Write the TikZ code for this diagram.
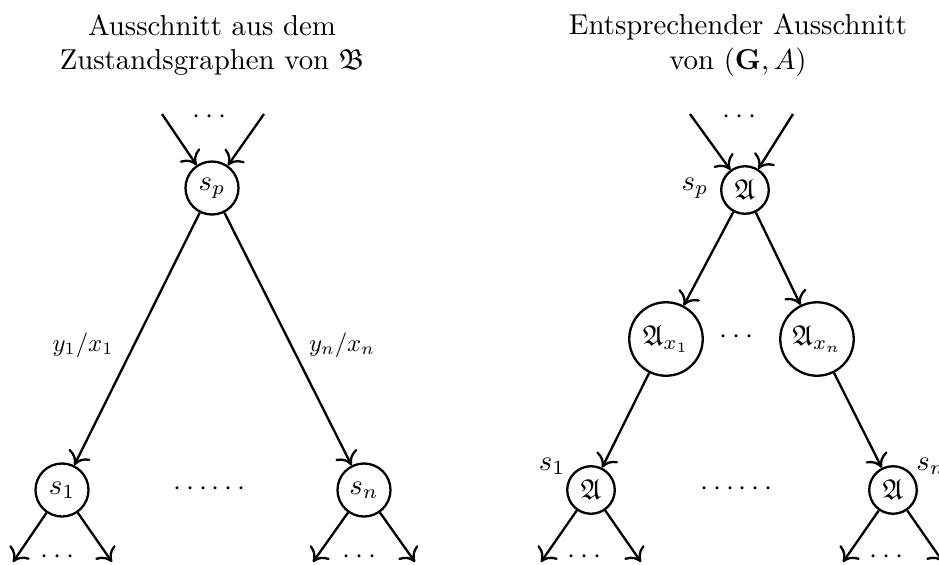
\documentclass[tikz,border=0pt]{standalone}
\usepackage{amsmath,amssymb}
\usetikzlibrary{arrows.meta}
\tikzset{
  state/.style={circle,draw,line width=0.8pt,inner sep=0pt,minimum size=18.4pt},
  small state/.style={circle,draw,line width=0.8pt,inner sep=0pt,minimum size=16.5pt},
  big state/.style={circle,draw,line width=0.8pt,inner sep=0pt,minimum size=25.5pt},
  conn/.style={line width=0.8pt,-{To[length=4.4pt,width=8.4pt]}},
  title/.style={align=center,inner sep=0pt},
  plain/.style={inner sep=0pt},
  edgelabel/.style={inner sep=0pt,scale=0.86}
}
\begin{document}
\begin{tikzpicture}[x=0.347pt,y=-0.347pt]
\useasboundingbox (0,0) rectangle (939,564);
% ---------- left ----------
\node[title] (tl) at (212,45) {Ausschnitt aus dem\\Zustandsgraphen von $\mathfrak{B}$};
\node[state] (sp) at (212,188) {$s_p$};
\node[state] (s1) at (62,490) {$s_1$};
\node[state] (sn) at (364,490) {$s_n$};
\coordinate (inA) at (162,114);
\coordinate (inB) at (264,114);
\node[plain] (dotsTL) at (212,117) {$\cdots$};
\draw[conn] (inA) -- (sp);
\draw[conn] (inB) -- (sp);
\draw[conn] (sp) -- (s1);
\draw[conn] (sp) -- (sn);
\node[edgelabel] (l1) at (83,345) {$y_1/x_1$};
\node[edgelabel] (ln) at (342,345) {$y_n/x_n$};
\node[plain] (midL) at (212,489) {$\cdots\cdots$};
\coordinate (o1a) at (13,562);
\coordinate (o1b) at (112,562);
\coordinate (ona) at (313,562);
\coordinate (onb) at (415,562);
\draw[conn] (s1) -- (o1a);
\draw[conn] (s1) -- (o1b);
\draw[conn] (sn) -- (ona);
\draw[conn] (sn) -- (onb);
\node[plain] (dots1) at (60,557) {$\cdots$};
\node[plain] (dotsn) at (362,557) {$\cdots$};
% ---------- right ----------
\node[title] (tr) at (738,45) {Entsprechender Ausschnitt\\von $(\mathbf{G},A)$};
\node[small state] (A) at (745,190) {$\mathfrak{A}$};
\node[plain] (spl) at (695,188) {$s_p$};
\coordinate (rinA) at (690,114);
\coordinate (rinB) at (793,114);
\node[plain] (dotsTR) at (742,117) {$\cdots$};
\draw[conn] (rinA) -- (A);
\draw[conn] (rinB) -- (A);
\node[big state] (Ax1) at (666,339) {$\mathfrak{A}_{x_1}$};
\node[big state] (Axn) at (817,339) {$\mathfrak{A}_{x_n}$};
\node[plain] (midAx) at (739,337) {$\cdots$};
\draw[conn] (A) -- (Ax1);
\draw[conn] (A) -- (Axn);
\node[small state] (A1) at (591,490) {$\mathfrak{A}$};
\node[small state] (An) at (893,490) {$\mathfrak{A}$};
\node[plain] (s1l) at (552,466) {$s_1$};
\node[plain] (snl) at (931,466) {$s_n$};
\draw[conn] (Ax1) -- (A1);
\draw[conn] (Axn) -- (An);
\node[plain] (midR) at (739,489) {$\cdots\cdots$};
\coordinate (r1a) at (541,562);
\coordinate (r1b) at (641,562);
\coordinate (rna) at (843,562);
\coordinate (rnb) at (943,562);
\draw[conn] (A1) -- (r1a);
\draw[conn] (A1) -- (r1b);
\draw[conn] (An) -- (rna);
\draw[conn] (An) -- (rnb);
\node[plain] (dotsr1) at (587,557) {$\cdots$};
\node[plain] (dotsrn) at (889,557) {$\cdots$};
\end{tikzpicture}
\end{document}
